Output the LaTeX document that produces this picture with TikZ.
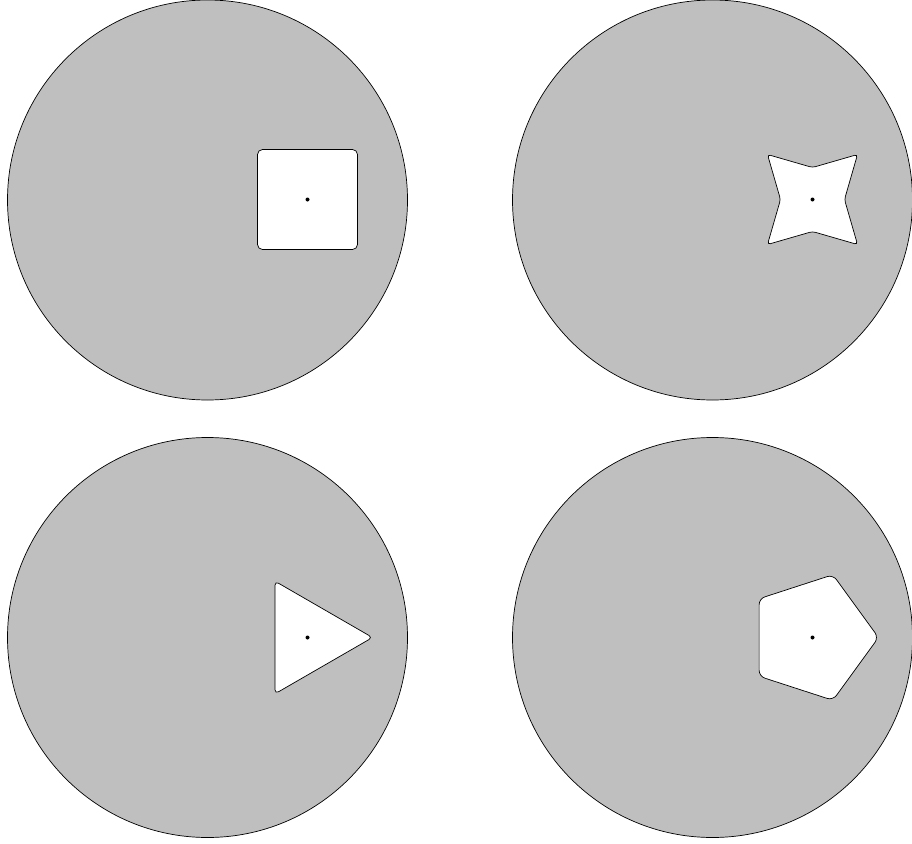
\documentclass[tikz,border=0pt]{standalone}
\usetikzlibrary{calc}
\begin{document}
\begin{tikzpicture}[x=1pt,y=-1pt,
  disc/.style={fill=gray!50,draw=black,line width=0.7pt,even odd rule},
  dotmark/.style={fill=black}]
\useasboundingbox (0,0) rectangle (912,843);
% centers
\coordinate (c1) at (207.5,200);
\coordinate (c2) at (712.5,200);
\coordinate (c3) at (207.5,637.5);
\coordinate (c4) at (712.5,637.5);
\coordinate (h1) at (307.5,199.5);
\coordinate (h2) at (812.5,199.5);
\coordinate (h3) at (307.5,637.5);
\coordinate (h4) at (812.5,637.5);
% square hole
\path[disc] (c1) circle[radius=200]
  [rounded corners=5pt] ($(h1)+(0,-50)$) -- ($(h1)+(50,-50)$) -- ($(h1)+(50,50)$) -- ($(h1)+(-50,50)$) -- ($(h1)+(-50,-50)$) -- cycle;
% star hole
\path[disc] (c2) circle[radius=200]
  [rounded corners=3pt] ($(h2)+(0,-32)$) -- ($(h2)+(45,-45)$) -- ($(h2)+(32,0)$) -- ($(h2)+(45,45)$) -- ($(h2)+(0,32)$) -- ($(h2)+(-45,45)$) -- ($(h2)+(-32,0)$) -- ($(h2)+(-45,-45)$) -- cycle;
% triangle hole
\path[disc] (c3) circle[radius=200]
  [rounded corners=4pt] ($(h3)+(16.25,-28.15)$) -- ($(h3)+(-32.5,-56.29)$) -- ($(h3)+(-32.5,56.29)$) -- ($(h3)+(65,0)$) -- cycle;
% pentagon hole
\path[disc] (c4) circle[radius=200]
  [rounded corners=6pt] ($(h4)+(43.2,-31.39)$) -- ($(h4)+(20.40,-62.77)$) -- ($(h4)+(-53.40,-38.79)$) -- ($(h4)+(-53.40,38.79)$) -- ($(h4)+(20.40,62.77)$) -- ($(h4)+(66,0)$) -- cycle;
% center dots
\foreach \h in {h1,h2,h3,h4} \fill[dotmark] (\h) circle[radius=2];
\end{tikzpicture}
\end{document}
